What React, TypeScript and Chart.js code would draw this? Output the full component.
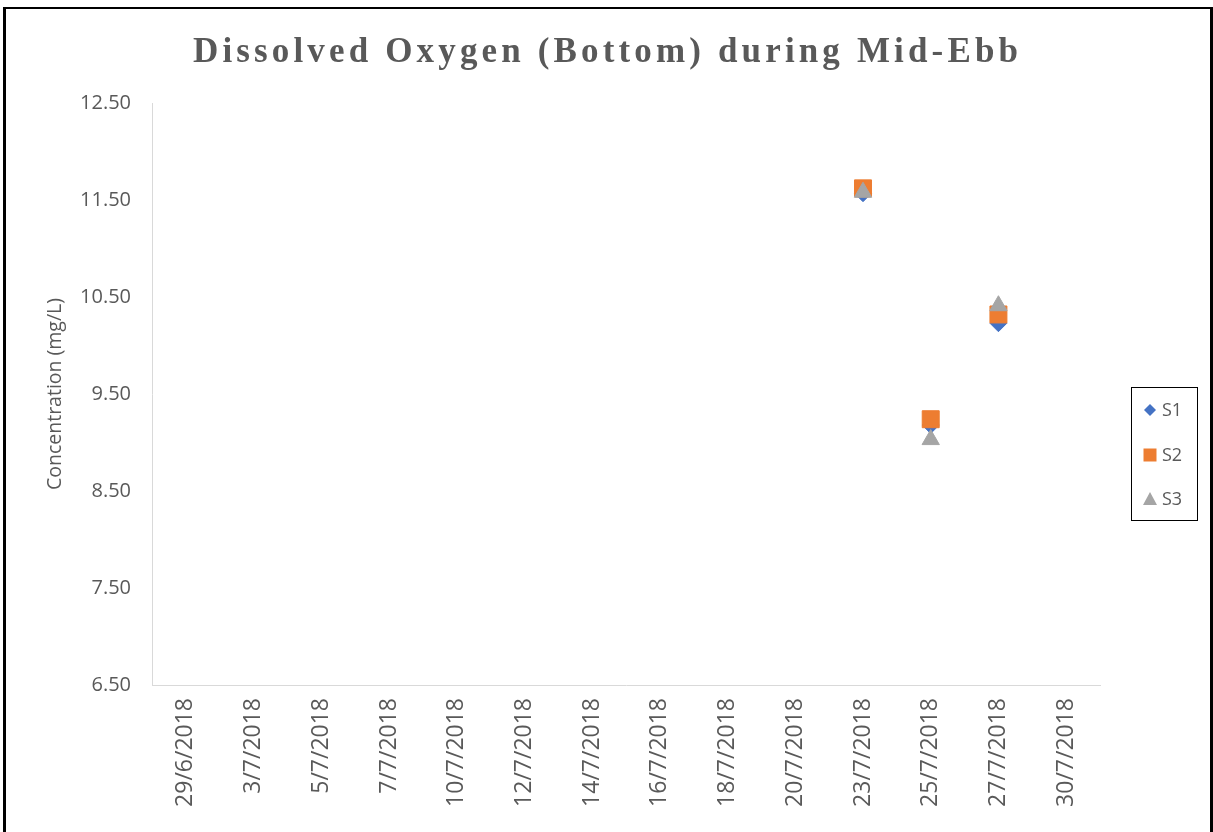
import React, { useEffect, useRef } from "react";
import { Chart, registerables } from "chart.js";

Chart.register(...registerables);

const TITLE = "Dissolved Oxygen (Bottom) during Mid-Ebb";
const Y_TITLE = "Concentration (mg/L)";

const dateLabels = [
  "29/6/2018", "3/7/2018", "5/7/2018", "7/7/2018", "10/7/2018", "12/7/2018",
  "14/7/2018", "16/7/2018", "18/7/2018", "20/7/2018", "23/7/2018", "25/7/2018",
  "27/7/2018", "30/7/2018",
];

const s1Values = [null, null, null, null, null, null, null, null, null, null, 11.57, 9.18, 10.23, null];
const s2Values = [null, null, null, null, null, null, null, null, null, null, 11.62, 9.24, 10.32, null];
const s3Values = [null, null, null, null, null, null, null, null, null, null, 11.58, 9.03, 10.41, null];

const seriesNames = ["S1", "S2", "S3"];
const seriesColors = ["#4472C4", "#ED7D31", "#A5A5A5"];

const yMin = 6.5;
const yMax = 12.5;
const yStep = 1;

const GRAY = "#595959";

const titlePlugin = {
  id: "spacedTitle",
  afterDraw(chart: any) {
    const ctx = chart.ctx as CanvasRenderingContext2D;
    ctx.save();
    ctx.font = 'bold 35px "Liberation Serif", "Times New Roman", serif';
    ctx.fillStyle = GRAY;
    (ctx as any).letterSpacing = "0px";
    const w = ctx.measureText(TITLE).width;
    const targetW = 825;
    const sp = Math.max(0, (targetW - w) / (TITLE.length - 1));
    (ctx as any).letterSpacing = sp.toFixed(2) + "px";
    ctx.textAlign = "left";
    ctx.textBaseline = "alphabetic";
    ctx.fillText(TITLE, 193, 62);
    ctx.restore();
  },
};

const legendPlugin = {
  id: "boxLegend",
  afterDraw(chart: any) {
    const ctx = chart.ctx as CanvasRenderingContext2D;
    ctx.save();
    ctx.strokeStyle = "#000000";
    ctx.lineWidth = 1;
    ctx.strokeRect(1131.5, 387.5, 66, 133);
    const ys = [410, 455, 499];
    const mx = 1150;
    seriesNames.forEach((name, i) => {
      const y = ys[i];
      ctx.fillStyle = seriesColors[i];
      ctx.beginPath();
      if (i === 0) {
        ctx.moveTo(mx - 6, y);
        ctx.lineTo(mx, y - 6);
        ctx.lineTo(mx + 6, y);
        ctx.lineTo(mx, y + 6);
        ctx.closePath();
      } else if (i === 1) {
        ctx.rect(mx - 6.5, y - 6.5, 13, 13);
      } else {
        ctx.moveTo(mx, y - 7);
        ctx.lineTo(mx + 7, y + 6);
        ctx.lineTo(mx - 7, y + 6);
        ctx.closePath();
      }
      ctx.fill();
      ctx.fillStyle = GRAY;
      ctx.font = '18px "Open Sans", sans-serif';
      ctx.textAlign = "left";
      ctx.textBaseline = "middle";
      ctx.fillText(name, 1162, y + 1);
    });
    ctx.restore();
  },
};

export default function App() {
  const canvasRef = useRef<HTMLCanvasElement | null>(null);

  useEffect(() => {
    document.body.style.margin = "0";
    const canvas = canvasRef.current;
    if (!canvas) return;
    const yTitleSize = 19.5;
    const chart = new Chart(canvas, {
      type: "line",
      data: {
        labels: dateLabels,
        datasets: [
          {
            label: seriesNames[0],
            data: s1Values,
            showLine: false,
            pointStyle: "rectRot",
            pointRadius: 8.5,
            borderWidth: 1,
            backgroundColor: seriesColors[0],
            borderColor: seriesColors[0],
            order: 3,
          },
          {
            label: seriesNames[1],
            data: s2Values,
            showLine: false,
            pointStyle: "rect",
            pointRadius: 12,
            borderWidth: 1,
            backgroundColor: seriesColors[1],
            borderColor: seriesColors[1],
            order: 2,
          },
          {
            label: seriesNames[2],
            data: s3Values,
            showLine: false,
            pointStyle: "triangle",
            pointRadius: 10,
            borderWidth: 1,
            backgroundColor: seriesColors[2],
            borderColor: seriesColors[2],
            order: 1,
          },
        ],
      },
      options: {
        responsive: false,
        animation: false,
        layout: { padding: { top: 103, right: 113, bottom: 0, left: 0 } },
        plugins: {
          legend: { display: false },
          title: { display: false },
          tooltip: { enabled: false },
        },
        scales: {
          x: {
            type: "category",
            offset: true,
            grid: { display: false, drawTicks: false },
            border: { display: true, color: "#D9D9D9", width: 1 },
            ticks: {
              autoSkip: false,
              minRotation: 90,
              maxRotation: 90,
              padding: 13,
              color: GRAY,
              font: { family: "'Open Sans', sans-serif", size: 23 },
            },
            afterFit: (s: any) => {
              s.height = 147;
            },
          },
          y: {
            min: yMin,
            max: yMax,
            grid: { display: false, drawTicks: false },
            border: { display: true, color: "#D9D9D9", width: 1 },
            ticks: {
              stepSize: yStep,
              padding: 21,
              color: GRAY,
              font: { family: "'Open Sans', sans-serif", size: 20 },
              callback: (v: any) => Number(v).toFixed(2),
            },
            title: {
              display: true,
              text: Y_TITLE,
              color: GRAY,
              font: { family: "'Open Sans', sans-serif", size: yTitleSize },
              padding: { top: 55 - (yTitleSize * 1.2) / 2, bottom: 0 },
            },
            afterFit: (s: any) => {
              s.width = 152;
            },
          },
        },
      },
      plugins: [titlePlugin, legendPlugin],
    });
    return () => chart.destroy();
  }, []);

  return (
    <div style={{ position: "relative", width: 1213, height: 832, overflow: "hidden", background: "#fff" }}>
      <canvas ref={canvasRef} width={1213} height={832} style={{ position: "absolute", left: 0, top: 0 }} />
      <div
        style={{
          position: "absolute",
          left: 3,
          top: 7,
          width: 1213 - 3 - 6,
          height: 900,
          borderStyle: "solid",
          borderColor: "#000",
          borderWidth: "2px 3px 3px 3px",
          pointerEvents: "none",
        }}
      />
    </div>
  );
}
